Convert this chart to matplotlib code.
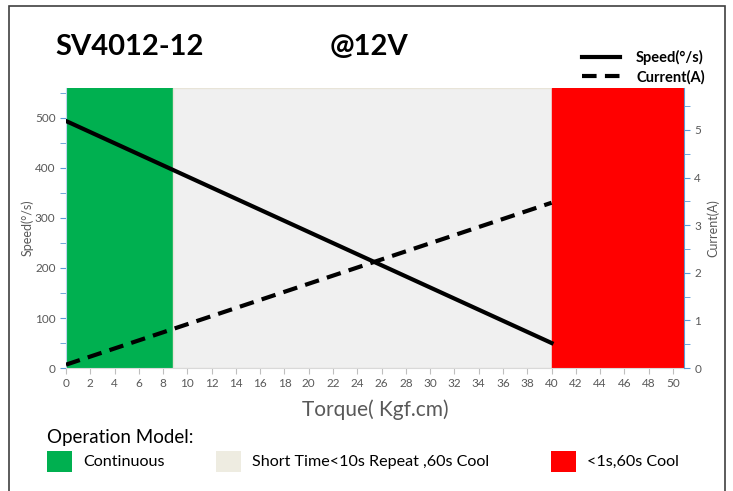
import matplotlib.pyplot as plt
import matplotlib.patches as patches
from matplotlib.ticker import MultipleLocator
from matplotlib.lines import Line2D

plt.rcParams['font.family'] = ['Lato', 'DejaVu Sans']

# data
torque = [0, 40]
speed = [494, 50]
current = [0.07, 3.47]

zones = [(0, 8.8, '#00B050'), (8.8, 40, '#F0F0F0'), (40, 50.8, '#FF0000')]
zone_labels = ['Continuous', 'Short Time<10s Repeat ,60s Cool', '<1s,60s Cool']
zone_colors = ['#00B050', '#EEECE1', '#FF0000']

fig = plt.figure(figsize=(7.33, 4.91), dpi=100)
ax = fig.add_axes([0.090, 0.2505, 0.843, 0.5703])

# background zones
for x0, x1, c in zones:
    ec = '#E8E4D8' if c == '#F0F0F0' else c
    ax.add_patch(patches.Rectangle((x0, 0), x1 - x0, 560, facecolor=c,
                                   edgecolor=ec, lw=1, zorder=1))

ax.plot(torque, speed, color='black', lw=3, zorder=3)
ax.set_xlim(0, 50.9)
ax.set_ylim(0, 560)

ax2 = ax.twinx()
ax2.plot(torque, current, color='black', lw=3, ls=(0, (3.5, 2)), zorder=3)
ax2.set_ylim(0, 5.88)

gray = '#595959'
blue = '#5B9BD5'
for a in (ax, ax2):
    for s in a.spines.values():
        s.set_visible(False)
ax.spines['left'].set_visible(True)
ax.spines['left'].set_color('#BDD7EE')
ax2.spines['right'].set_visible(True)
ax2.spines['right'].set_color(blue)
ax.spines['bottom'].set_visible(True)
ax.spines['bottom'].set_color('#D9D9D9')

ax.xaxis.set_major_locator(MultipleLocator(2))
ax.yaxis.set_major_locator(MultipleLocator(100))
ax.yaxis.set_minor_locator(MultipleLocator(50))
ax2.yaxis.set_major_locator(MultipleLocator(1))
ax2.yaxis.set_minor_locator(MultipleLocator(0.5))
ax.tick_params(axis='x', colors='#BFBFBF', labelcolor=gray, labelsize=8.5, length=4)
ax.tick_params(axis='y', which='both', colors=blue, labelcolor=gray, labelsize=8.5, length=4)
ax2.tick_params(axis='y', which='both', colors=blue, labelcolor=gray, labelsize=8.5, length=4)

ax.set_ylabel('Speed(°/s)', color=gray, fontsize=9, labelpad=1)
ax2.set_ylabel('Current(A)', color=gray, fontsize=9, labelpad=4)
ax.set_xlabel('Torque( Kgf.cm)', color=gray, fontsize=15, labelpad=7)

# titles
fig.text(55 / 733, 1 - 47 / 491, 'SV4012-12', fontsize=21, fontweight='bold', va='center')
fig.text(330 / 733, 1 - 47 / 491, '@12V', fontsize=21, fontweight='bold', va='center')

# line legend
handles = [Line2D([], [], color='black', lw=3),
           Line2D([], [], color='black', lw=3, ls=(0, (3.5, 2)))]
fig.legend(handles, ['Speed(°/s)', 'Current(A)'], loc='upper right',
           bbox_to_anchor=(712 / 733, 1 - 43 / 491), frameon=False,
           prop={'weight': 'bold', 'size': 10.5}, handlelength=2.6,
           labelspacing=0.3, borderpad=0, handletextpad=1.1)

# operation model legend
fig.text(47 / 733, 1 - 437 / 491, 'Operation Model:', fontsize=13.5, va='center')
box_x = [47, 216, 551]
for bx, lab, c in zip(box_x, zone_labels, zone_colors):
    fig.add_artist(patches.Rectangle((bx / 733, 1 - 472 / 491), 25 / 733, 21 / 491,
                                     transform=fig.transFigure, facecolor=c,
                                     edgecolor='none'))
    fig.text((bx + 36) / 733, 1 - 462 / 491, lab, fontsize=11.6, va='center')

# outer border
fig.add_artist(patches.Rectangle((9 / 733, -0.05), 716 / 733, 1.05 - 6 / 491,
                                 transform=fig.transFigure, fill=False,
                                 edgecolor='#404040', lw=1.2))

fig.savefig('out.png', dpi=100)
